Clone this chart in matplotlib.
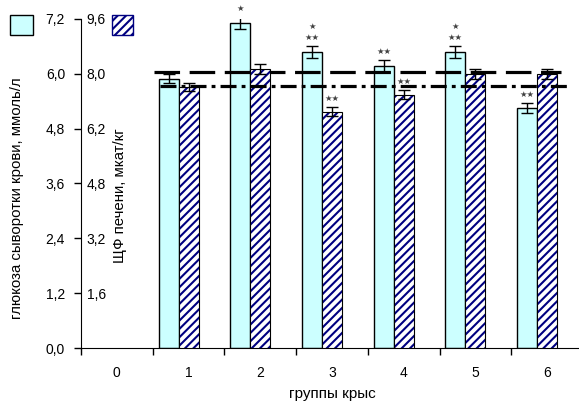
import matplotlib
matplotlib.use('Agg')
import matplotlib.pyplot as plt
from matplotlib.patches import Rectangle
import numpy as np

plt.rcParams['font.family'] = ['Liberation Sans', 'DejaVu Sans']
plt.rcParams['hatch.linewidth'] = 1.5

# data
groups = [0, 1, 2, 3, 4, 5, 6]
glucose = [np.nan, 5.89, 7.12, 6.48, 6.18, 6.48, 5.25]        # ммоль/л
glucose_err = [0, 0.10, 0.13, 0.13, 0.13, 0.13, 0.11]
alp = [np.nan, 7.62, 8.15, 6.89, 7.39, 8.00, 8.00]              # мкат/кг
alp_err = [0, 0.12, 0.15, 0.13, 0.13, 0.15, 0.15]
glucose_stars = ['', '', '*', '*\n**', '**', '*\n**', '**']
alp_stars = ['', '', '', '**', '**', '', '']
glucose_control = 6.04
alp_control = 7.65

glu_ticks = [0.0, 1.2, 2.4, 3.6, 4.8, 6.0, 7.2]
glu_labels = ['0,0', '1,2', '2,4', '3,6', '4,8', '6,0', '7,2']
alp_ticks = [1.6, 3.2, 4.8, 6.4, 8.0, 9.6]
alp_labels = ['1,6', '3,2', '4,8', '6,2', '8,0', '9,6']

W, H = 579, 401
fig = plt.figure(figsize=(W / 100, H / 100), dpi=100)
ax = fig.add_axes([81 / W, (H - 348) / H, 502 / W, 329 / H])
ax2 = ax.twinx()

x = np.array(groups, dtype=float)
bw = 0.279
cyan = '#CCFFFF'
navy = '#000080'

ax.bar(x - bw, glucose, bw, color=cyan, edgecolor='black', linewidth=1, zorder=2)
ax.errorbar(x - bw, glucose, yerr=glucose_err, fmt='none', ecolor='black',
            elinewidth=1, capsize=4.5, capthick=1, zorder=3)

ax2.bar(x, alp, bw, color='white', edgecolor=navy, hatch='////', linewidth=0, zorder=2)
ax2.bar(x, alp, bw, color='none', edgecolor='black', linewidth=0.8, zorder=2)
ax2.errorbar(x, alp, yerr=alp_err, fmt='none', ecolor='black',
             elinewidth=1, capsize=4.5, capthick=1, zorder=3)

# control levels
ax.plot([0.52, 6.19], [glucose_control] * 2, color='black', lw=2.3,
        dashes=(8, 3), solid_capstyle='butt', zorder=4)
ax2.plot([0.60, 6.32], [alp_control] * 2, color='black', lw=2.3,
         dashes=(5, 1.6, 1.2, 1.6), zorder=4)

# significance marks
for xi, v, e, s in zip(x, glucose, glucose_err, glucose_stars):
    if s:
        ax.text(xi - bw, v + e + 0.08, s.replace('*', '\u2605'), ha='center', va='bottom',
                fontsize=6, color='#404040', family='DejaVu Sans', linespacing=1.4)
for xi, v, e, s in zip(x, alp, alp_err, alp_stars):
    if s:
        ax2.text(xi, v + e + 0.12, s.replace('*', '\u2605'), ha='center', va='bottom',
                 fontsize=6, color='#404040', family='DejaVu Sans')

ax.set_xlim(-0.5, 6.5)
ax.set_ylim(0, 7.2)
ax2.set_ylim(0, 9.6)

ax.set_xticks(np.arange(-0.5, 7.0, 1.0))
ax.set_xticklabels([])
ax.set_xticks(x, [str(g) for g in groups], minor=True)
ax.tick_params(axis='x', which='major', direction='out', length=5, width=1)
ax.tick_params(axis='x', which='minor', length=0, pad=13, labelsize=10)

ax.set_yticks(glu_ticks, glu_labels)
ax.tick_params(axis='y', direction='out', length=5, width=1, pad=6.5, labelsize=10)

for sp in ['top', 'right']:
    ax.spines[sp].set_visible(False)
for sp in ['top', 'left', 'bottom']:
    ax2.spines[sp].set_visible(False)
ax2.spines['right'].set_position(('axes', 0))
ax2.spines['right'].set_visible(False)
ax2.set_yticks(alp_ticks, alp_labels)
ax2.tick_params(axis='y', length=0, pad=4, labelsize=10)

ax.set_ylabel('глюкоза сыворотки крови, ммоль/л', fontsize=10.8)
ax.yaxis.set_label_coords(-0.114, 0.455)
ax2.set_ylabel('ЩФ печени, мкат/кг', fontsize=10.8)
ax2.yaxis.set_label_coords(0.063, 0.463)
ax.set_xlabel('группы крыс', fontsize=11)
ax.xaxis.set_label_coords(0.5, -0.118)

# legend boxes
fig.add_artist(Rectangle((10 / W, (H - 35) / H), 23 / W, 20 / H, transform=fig.transFigure,
                         facecolor=cyan, edgecolor='black', lw=1))
fig.add_artist(Rectangle((112 / W, (H - 35) / H), 21 / W, 20 / H, transform=fig.transFigure,
                         facecolor='white', edgecolor=navy, hatch='////', lw=1))

fig.savefig('out.png', dpi=100)
